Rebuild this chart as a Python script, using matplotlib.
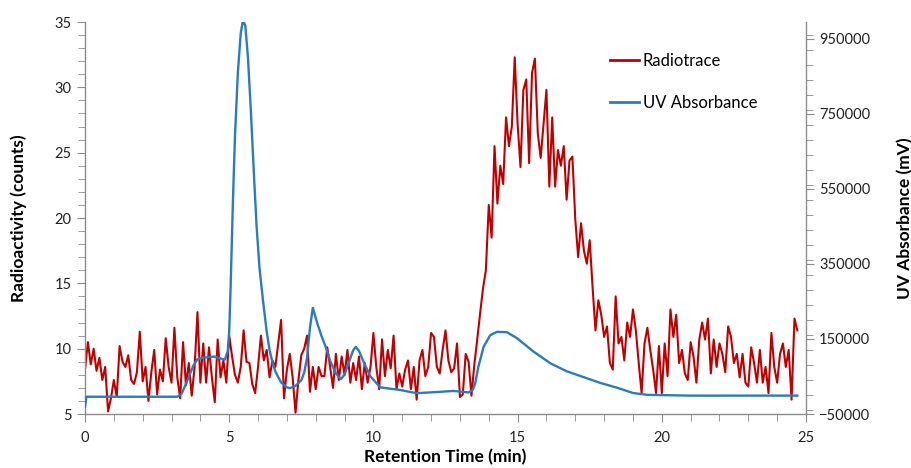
import numpy as np
import matplotlib
matplotlib.use("Agg")
import matplotlib.pyplot as plt
from matplotlib.ticker import MultipleLocator

plt.rcParams['font.family'] = ['Lato', 'DejaVu Sans']

# radiotrace, sampled every 0.1 min from 0.0 to 24.7 (counts)
radio_counts = [
    8.4, 10.5, 8.8, 10.0, 8.3, 9.3, 7.6, 8.6, 5.2, 6.2,
    7.6, 6.3, 10.2, 9.0, 8.6, 9.5, 7.6, 7.3, 8.2, 11.3,
    7.5, 8.6, 6.0, 8.2, 9.9, 6.5, 8.4, 7.5, 10.8, 8.6,
    7.4, 11.6, 7.8, 6.2, 10.5, 7.2, 8.9, 6.4, 8.6, 12.8,
    7.4, 10.4, 7.4, 10.1, 7.8, 5.9, 10.7, 7.8, 9.1, 7.4,
    11.0, 9.4, 8.0, 7.4, 8.6, 11.4, 9.0, 8.9, 7.3, 6.6,
    8.6, 11.0, 9.1, 9.9, 7.8, 9.1, 8.6, 10.4, 12.2, 6.2,
    8.4, 9.6, 7.8, 5.1, 7.6, 9.5, 10.0, 11.0, 6.7, 8.6,
    6.9, 8.6, 7.9, 7.9, 10.1, 8.6, 7.0, 9.6, 7.6, 9.4,
    8.0, 9.9, 7.4, 8.9, 7.6, 9.4, 6.9, 8.9, 7.4, 8.6,
    11.2, 8.6, 6.9, 10.7, 7.9, 9.9, 8.5, 11.0, 6.9, 8.1,
    7.1, 8.4, 9.1, 6.9, 8.6, 6.1, 9.1, 9.9, 7.9, 8.6,
    11.2, 10.9, 8.6, 8.1, 9.9, 11.4, 9.1, 8.2, 8.5, 10.4,
    6.3, 6.5, 9.6, 9.0, 6.4, 8.8, 10.7, 12.7, 14.6, 16.0,
    21.0, 18.5, 25.5, 21.1, 24.0, 22.6, 27.7, 25.5, 27.0, 32.3,
    27.2, 23.9, 29.8, 30.6, 24.2, 31.1, 32.2, 26.5, 24.6, 27.2,
    29.8, 22.4, 27.7, 22.4, 25.2, 24.0, 25.5, 21.4, 24.4, 24.7,
    19.9, 17.0, 19.6, 17.5, 16.5, 18.3, 14.7, 11.4, 13.7, 12.6,
    10.9, 11.7, 8.9, 8.4, 14.0, 10.4, 10.9, 9.1, 12.0, 10.9,
    13.0, 11.4, 8.9, 6.6, 10.4, 11.6, 9.9, 8.4, 6.6, 10.2,
    6.6, 10.4, 7.9, 13.0, 10.9, 12.6, 8.9, 9.9, 8.1, 7.6,
    10.5, 9.4, 7.4, 10.7, 12.0, 10.7, 12.3, 8.1, 10.7, 8.6,
    10.4, 9.6, 8.2, 11.7, 10.9, 8.9, 9.6, 7.8, 9.6, 7.4,
    7.1, 10.1, 8.9, 7.4, 9.9, 7.4, 8.6, 6.6, 11.2, 8.6,
    7.4, 9.6, 10.4, 8.6, 9.9, 6.1, 12.3, 11.4,
]
radio_time = np.round(np.arange(len(radio_counts)) * 0.1, 1)

# UV absorbance (mV)
uv_time = [
    0.0, 0.05, 3.2, 3.35, 3.5, 3.6, 3.75, 3.9, 4.1, 4.3, 4.5, 4.7, 4.85,
    4.95, 5.0, 5.05, 5.13, 5.2, 5.3, 5.4, 5.48, 5.56, 5.65, 5.75, 5.85,
    5.95, 6.05, 6.17, 6.3, 6.4, 6.5, 6.6, 6.8, 7.0, 7.1, 7.3, 7.5, 7.6,
    7.7, 7.8, 7.9, 8.05, 8.2, 8.35, 8.5, 8.7, 8.87, 9.0, 9.15, 9.3, 9.39,
    9.5, 9.7, 9.9, 10.24, 10.93, 11.5, 12.3, 12.77, 13.3, 13.45, 13.53,
    13.64, 13.82, 14.05, 14.28, 14.63, 14.98, 15.56, 16.14, 16.7, 17.3,
    17.86, 18.45, 19.0, 19.5, 21.0, 24.7,
]
uv_mv = [
    -31000, -4000, -4000, 4000, 30000, 49000, 78000, 96000, 100000, 102000,
    103000, 98000, 95000, 118000, 170000, 290000, 520000, 690000, 860000,
    965000, 1000000, 985000, 900000, 760000, 600000, 450000, 340000, 254000,
    170000, 120000, 88000, 63000, 34000, 21000, 19000, 25000, 40000, 60000,
    100000, 180000, 233000, 193000, 158000, 128000, 92000, 58000, 43000,
    55000, 88000, 120000, 129000, 118000, 82000, 50000, 21000, 14000, 5500,
    9000, 11500, 7500, 15000, 32000, 76000, 129000, 160000, 169000, 168000,
    152000, 116000, 85000, 64000, 48000, 33000, 20000, 6000, 1000, -1000,
    -1000,
]

red = '#C00000'
blue = '#2B7BC0'
grey = '#8C8C8C'

fig = plt.figure(figsize=(9.12, 4.68), dpi=100)
ax = fig.add_axes([85 / 912, 54 / 468, 721 / 912, 392 / 468])
ax2 = ax.twinx()

l1, = ax.plot(radio_time, radio_counts, color=red, lw=1.5, label='Radiotrace')
l2, = ax2.plot(uv_time, uv_mv, color=blue, lw=1.7, label='UV Absorbance')

ax.set_xlim(0, 25)
ax.set_ylim(5, 35)
ax2.set_ylim(-50000, 995000)

ax.xaxis.set_major_locator(MultipleLocator(5))
ax.xaxis.set_minor_locator(MultipleLocator(1))
ax.yaxis.set_major_locator(MultipleLocator(5))
ax.yaxis.set_minor_locator(MultipleLocator(1))
ax2.set_yticks([-50000, 150000, 350000, 550000, 750000, 950000])
ax2.yaxis.set_minor_locator(MultipleLocator(40000))

for a in (ax, ax2):
    for s in a.spines.values():
        s.set_color(grey)
        s.set_linewidth(1.0)
    a.spines['top'].set_visible(False)
    a.tick_params(which='both', color=grey, labelsize=10.5, labelcolor='#222222')
    a.tick_params(which='major', length=6)
    a.tick_params(which='minor', length=5)
ax.spines['right'].set_visible(False)
ax2.spines['left'].set_visible(False)
ax2.spines['bottom'].set_visible(False)
ax.tick_params(axis='x', pad=6)

ax.set_xlabel('Retention Time (min)', fontsize=12.5, fontweight='bold', labelpad=3)
ax.set_ylabel('Radioactivity (counts)', fontsize=12.5, fontweight='bold', labelpad=20)
ax2.set_ylabel('UV Absorbance (mV)', fontsize=12.5, fontweight='bold', labelpad=19)

leg = ax2.legend(handles=[l1, l2], loc='upper left',
                 bbox_to_anchor=(602 / 912, 1 - 45 / 468),
                 bbox_transform=fig.transFigure, frameon=False,
                 fontsize=12, handlelength=1.75, handletextpad=0.2,
                 labelspacing=1.55, borderpad=0)
for line in leg.get_lines():
    line.set_linewidth(2.0)

fig.savefig('out.png', dpi=100)
